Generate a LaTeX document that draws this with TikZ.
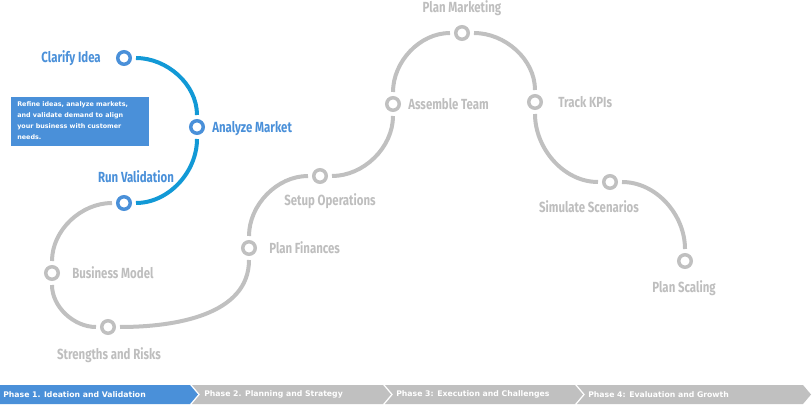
\documentclass[tikz,border=0pt]{standalone}
\usepackage{fontspec}
\newfontfamily\labfont[FakeStretch=0.78]{Fira Sans}
\newfontfamily\boxfont{DejaVu Sans}
\definecolor{curveblue}{RGB}{18,153,214}
\definecolor{dotblue}{RGB}{74,144,217}
\definecolor{pathgray}{RGB}{192,192,192}
\definecolor{labgray}{RGB}{190,190,190}
\tikzset{
  dotnode/.style={circle, draw=#1, fill=white, line width=2.6pt, minimum size=9.4pt, inner sep=0pt},
  bdot/.style={dotnode=dotblue},
  gdot/.style={dotnode=pathgray},
  seg/.style={line width=3pt, shorten <=3pt, shorten >=3pt},
  bseg/.style={seg, draw=curveblue},
  gseg/.style={seg, draw=pathgray},
  lab/.style={font=\labfont\bfseries\fontsize{11}{13}\selectfont, inner sep=0pt, text height=1.5ex, text depth=0.2ex, yshift=-1.4pt},
  blab/.style={lab, text=dotblue},
  glab/.style={lab, text=labgray},
  phasetxt/.style={font=\boxfont\bfseries\fontsize{5.8}{7}\selectfont, text=white, inner sep=0pt, anchor=west},
}
\begin{document}
\begin{tikzpicture}[x=0.75pt, y=-0.75pt]
\useasboundingbox (0,0) rectangle (812,416);
% dots
\node[bdot] (c1) at (124,58) {};
\node[bdot] (c2) at (197,127) {};
\node[bdot] (c3) at (124,203) {};
\node[gdot] (c4) at (52,273) {};
\node[gdot] (c5) at (108,327) {};
\node[gdot] (c6) at (249,248) {};
\node[gdot] (c7) at (320,176) {};
\node[gdot] (c8) at (393,104) {};
\node[gdot] (c9) at (462,33) {};
\node[gdot] (c10) at (535,102) {};
\node[gdot] (c11) at (610,182) {};
\node[gdot] (c12) at (685,261) {};
% curves
\draw[bseg] (c1) to[out=0,in=90] (c2);
\draw[bseg] (c2) to[out=-90,in=0] (c3);
\draw[gseg] (c3) to[out=180,in=90] (c4);
\draw[gseg] (c4) to[out=-90,in=180] (c5);
\draw[gseg] (c5) to[out=0,in=-90] (c6);
\draw[gseg] (c6) to[out=90,in=180] (c7);
\draw[gseg] (c7) to[out=0,in=-90] (c8);
\draw[gseg] (c8) to[out=90,in=180] (c9);
\draw[gseg] (c9) to[out=0,in=90] (c10);
\draw[gseg] (c10) to[out=-90,in=180] (c11);
\draw[gseg] (c11) to[out=0,in=90] (c12);
% labels
\node[blab, anchor=east] (l1) at (101,57) {Clarify Idea};
\node[blab, anchor=west] (l2) at (212,127) {Analyze Market};
\node[blab] (l3) at (136,177) {Run Validation};
\node[glab, anchor=west] (l4) at (72,273) {Business Model};
\node[glab] (l5) at (109,354) {Strengths and Risks};
\node[glab, anchor=west] (l6) at (269,248) {Plan Finances};
\node[glab] (l7) at (330,200) {Setup Operations};
\node[glab, anchor=west] (l8) at (408,104) {Assemble Team};
\node[glab] (l9) at (462,7) {Plan Marketing};
\node[glab, anchor=west] (l10) at (558,102) {Track KPIs};
\node[glab] (l11) at (589,207) {Simulate Scenarios};
\node[glab] (l12) at (684,287) {Plan Scaling};
% description box
\fill[dotblue] (11,97) rectangle (149,146);
\node[font=\boxfont\bfseries\fontsize{4.8}{8.25}\selectfont, text=white, align=left, anchor=north west, inner sep=0pt] (desc) at (17,101.5)
  {Refine ideas, analyze markets,\\and validate demand to align\\your business with customer\\needs.};
% phase bar
\fill[dotblue] (0,385) -- (190,385) -- (198,394.5) -- (190,404) -- (0,404) -- cycle;
\fill[pathgray] (192,385) -- (383,385) -- (391,394.5) -- (383,404) -- (192,404) -- (200,394.5) -- cycle;
\fill[pathgray] (385,385) -- (575,385) -- (583,394.5) -- (575,404) -- (385,404) -- (393,394.5) -- cycle;
\fill[pathgray] (577,385) -- (803,385) -- (811,394.5) -- (803,404) -- (577,404) -- (585,394.5) -- cycle;
\node[phasetxt] (p1) at (3,394.5) {Phase 1. Ideation and Validation};
\node[phasetxt] (p2) at (204,394.5) {Phase 2. Planning and Strategy};
\node[phasetxt] (p3) at (396,394.5) {Phase 3: Execution and Challenges};
\node[phasetxt] (p4) at (588,394.5) {Phase 4: Evaluation and Growth};
\end{tikzpicture}
\end{document}
